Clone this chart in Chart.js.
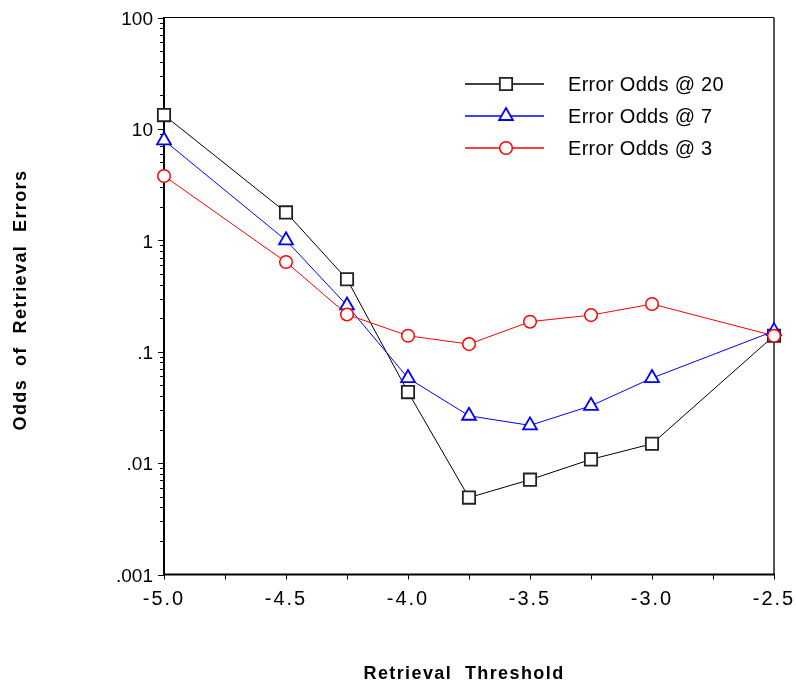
<!DOCTYPE html>
<html>
<head>
<meta charset="utf-8">
<script src="https://cdn.jsdelivr.net/npm/chart.js@4/dist/chart.umd.min.js"></script>
<style>
  html, body { margin: 0; padding: 0; background: #fff; }
  #wrap { width: 796px; height: 685px; position: relative; }
</style>
</head>
<body>
<div id="wrap"><canvas id="c"></canvas></div>
<script>
// ---- data ----
const thresholds = [-5.0, -4.5, -4.25, -4.0, -3.75, -3.5, -3.25, -3.0, -2.5];
const odds20 = [13.3, 1.78, 0.447, 0.0434, 0.0049, 0.0071, 0.0108, 0.0149, 0.139];
const odds7  = [7.9, 1.0, 0.26, 0.058, 0.0266, 0.0218, 0.0327, 0.058, 0.153];
const odds3  = [3.78, 0.638, 0.216, 0.139, 0.117, 0.186, 0.213, 0.268, 0.139];
const seriesNames = ['Error Odds @ 20', 'Error Odds @ 7', 'Error Odds @ 3'];

const xTickValues = [-5.0, -4.75, -4.5, -4.25, -4.0, -3.75, -3.5, -3.25, -3.0, -2.75, -2.5];
const xTickLabels = ['-5.0', '', '-4.5', '', '-4.0', '', '-3.5', '', '-3.0', '', '-2.5'];
const yMajorValues = [0.001, 0.01, 0.1, 1, 10, 100];
const yMajorLabels = ['.001', '.01', '.1', '1', '10', '100'];
const yMinorValues = [
  0.002,0.003,0.004,0.005,0.006,0.007,0.008,0.009,
  0.02,0.03,0.04,0.05,0.06,0.07,0.08,0.09,
  0.2,0.3,0.4,0.5,0.6,0.7,0.8,0.9,
  2,3,4,5,6,7,8,9,
  20,30,40,50,60,70,80,90
];
const xTitle = 'Retrieval  Threshold';
const yTitle = 'Odds  of  Retrieval  Errors';

const FONT = "'Liberation Sans', Arial, Helvetica, sans-serif";

function pts(arr) { return thresholds.map((x, i) => ({ x: x, y: arr[i] })); }

const framePlugin = {
  id: 'frame',
  beforeDatasetsDraw(chart) {
    const { ctx, chartArea: a, scales } = chart;
    ctx.save();
    ctx.strokeStyle = '#000'; ctx.lineWidth = 1;
    ctx.beginPath(); ctx.moveTo(a.left, a.top); ctx.lineTo(a.right, a.top); ctx.stroke();
    ctx.strokeStyle = '#555'; ctx.lineWidth = 2;
    ctx.beginPath(); ctx.moveTo(a.right, a.top); ctx.lineTo(a.right, a.bottom); ctx.stroke();
    ctx.strokeStyle = '#000'; ctx.lineWidth = 2;
    ctx.beginPath(); ctx.moveTo(a.left, a.top - 0.5); ctx.lineTo(a.left, a.bottom); ctx.lineTo(a.right + 1, a.bottom); ctx.stroke();
    ctx.lineWidth = 1;
    const ys = scales.y;
    yMajorValues.forEach(v => {
      const p = Math.round(ys.getPixelForValue(v)) + 0.5;
      ctx.beginPath(); ctx.moveTo(a.left - 6, p); ctx.lineTo(a.left, p); ctx.stroke();
    });
    yMinorValues.forEach(v => {
      const p = Math.round(ys.getPixelForValue(v)) + 0.5;
      ctx.beginPath(); ctx.moveTo(a.left - 4, p); ctx.lineTo(a.left, p); ctx.stroke();
    });
    const xs = scales.x;
    xTickValues.forEach(v => {
      const p = Math.round(xs.getPixelForValue(v)) + 0.5;
      ctx.beginPath(); ctx.moveTo(p, a.bottom); ctx.lineTo(p, a.bottom + 5); ctx.stroke();
    });
    ctx.restore();
  },
  afterDraw(chart) {
    const { ctx } = chart;
    ctx.save();
    ctx.fillStyle = '#000';
    ctx.font = "bold 18px " + FONT;
    if ('letterSpacing' in ctx) ctx.letterSpacing = '1.4px';
    ctx.textAlign = 'center';
    ctx.textBaseline = 'middle';
    ctx.fillText(xTitle, 464, 674);
    ctx.translate(21, 300);
    ctx.rotate(-Math.PI / 2);
    ctx.fillText(yTitle, 0, 0);
    ctx.restore();

    const rows = [84, 116, 148];
    chart.data.datasets.forEach((ds, i) => {
      const y = rows[i];
      ctx.save();
      ctx.strokeStyle = ds.borderColor;
      ctx.lineWidth = 1.3;
      ctx.beginPath(); ctx.moveTo(465, y); ctx.lineTo(544, y); ctx.stroke();
      ctx.fillStyle = ds.pointBackgroundColor;
      ctx.strokeStyle = ds.pointBorderColor;
      ctx.lineWidth = ds.pointBorderWidth;
      Chart.helpers.drawPoint(ctx, {
        pointStyle: ds.pointStyle, radius: ds.pointRadius, borderWidth: ds.pointBorderWidth, rotation: 0
      }, 506, y);
      ctx.fillStyle = '#000';
      ctx.font = "20px " + FONT;
      if ('letterSpacing' in ctx) ctx.letterSpacing = '0.3px';
      ctx.textAlign = 'left';
      ctx.textBaseline = 'middle';
      ctx.fillText(ds.label, 568, y + 1);
      ctx.restore();
    });
  }
};

function spacedLabels(spacing) {
  return s => {
    if (s._spacedPatched) return;
    const orig = s.drawLabels.bind(s);
    s.drawLabels = (ca) => {
      s.ctx.save();
      if ('letterSpacing' in s.ctx) s.ctx.letterSpacing = spacing;
      orig(ca);
      s.ctx.restore();
    };
    s._spacedPatched = true;
  };
}

const ctxEl = document.getElementById('c');
new Chart(ctxEl, {
  type: 'line',
  data: {
    datasets: [
      {
        label: seriesNames[0], data: pts(odds20), order: 3,
        borderColor: '#000000', borderWidth: 1,
        pointStyle: 'rect', pointRadius: 8.7, pointBorderWidth: 1.8,
        pointBorderColor: '#222222', pointBackgroundColor: '#ffffff',
        clip: false, tension: 0
      },
      {
        label: seriesNames[1], data: pts(odds7), order: 2,
        borderColor: '#0000ff', borderWidth: 1,
        pointStyle: 'triangle', pointRadius: 8, pointBorderWidth: 1.8,
        pointBorderColor: '#0000ff', pointBackgroundColor: '#ffffff',
        clip: false, tension: 0
      },
      {
        label: seriesNames[2], data: pts(odds3), order: 1,
        borderColor: '#ff0000', borderWidth: 1,
        pointStyle: 'circle', pointRadius: 6.3, pointBorderWidth: 1.5,
        pointBorderColor: '#ff0000', pointBackgroundColor: '#ffffff',
        clip: false, tension: 0
      }
    ]
  },
  options: {
    responsive: true,
    maintainAspectRatio: false,
    animation: false,
    devicePixelRatio: 1,
    layout: { padding: { top: 17.5, right: 22, left: 0, bottom: 0 } },
    plugins: { legend: { display: false }, tooltip: { enabled: false } },
    scales: {
      x: {
        type: 'linear', min: -5.0, max: -2.5,
        grid: { display: false, drawTicks: false },
        border: { display: false },
        afterBuildTicks: s => { s.ticks = xTickValues.map(v => ({ value: v })); },
        afterFit: s => { s.height = 110.5; s.paddingLeft = 0; s.paddingRight = 0; },
        afterUpdate: spacedLabels('2px'),
        ticks: {
          autoSkip: false, maxRotation: 0, padding: 13,
          color: '#000', font: { family: FONT, size: 20 },
          callback: (v) => { const i = xTickValues.indexOf(v); return i >= 0 ? xTickLabels[i] : ''; }
        }
      },
      y: {
        type: 'logarithmic', min: 0.001, max: 100,
        grid: { display: false, drawTicks: false },
        border: { display: false },
        afterBuildTicks: s => { s.ticks = yMajorValues.map(v => ({ value: v })); },
        afterFit: s => { s.width = 164; s.paddingTop = 0; s.paddingBottom = 0; },
        ticks: {
          autoSkip: false, padding: 11, labelOffset: 2,
          color: '#000', font: { family: FONT, size: 19 },
          callback: (v) => { const i = yMajorValues.indexOf(v); return i >= 0 ? yMajorLabels[i] : ''; }
        }
      }
    }
  },
  plugins: [framePlugin]
});
</script>
</body>
</html>
